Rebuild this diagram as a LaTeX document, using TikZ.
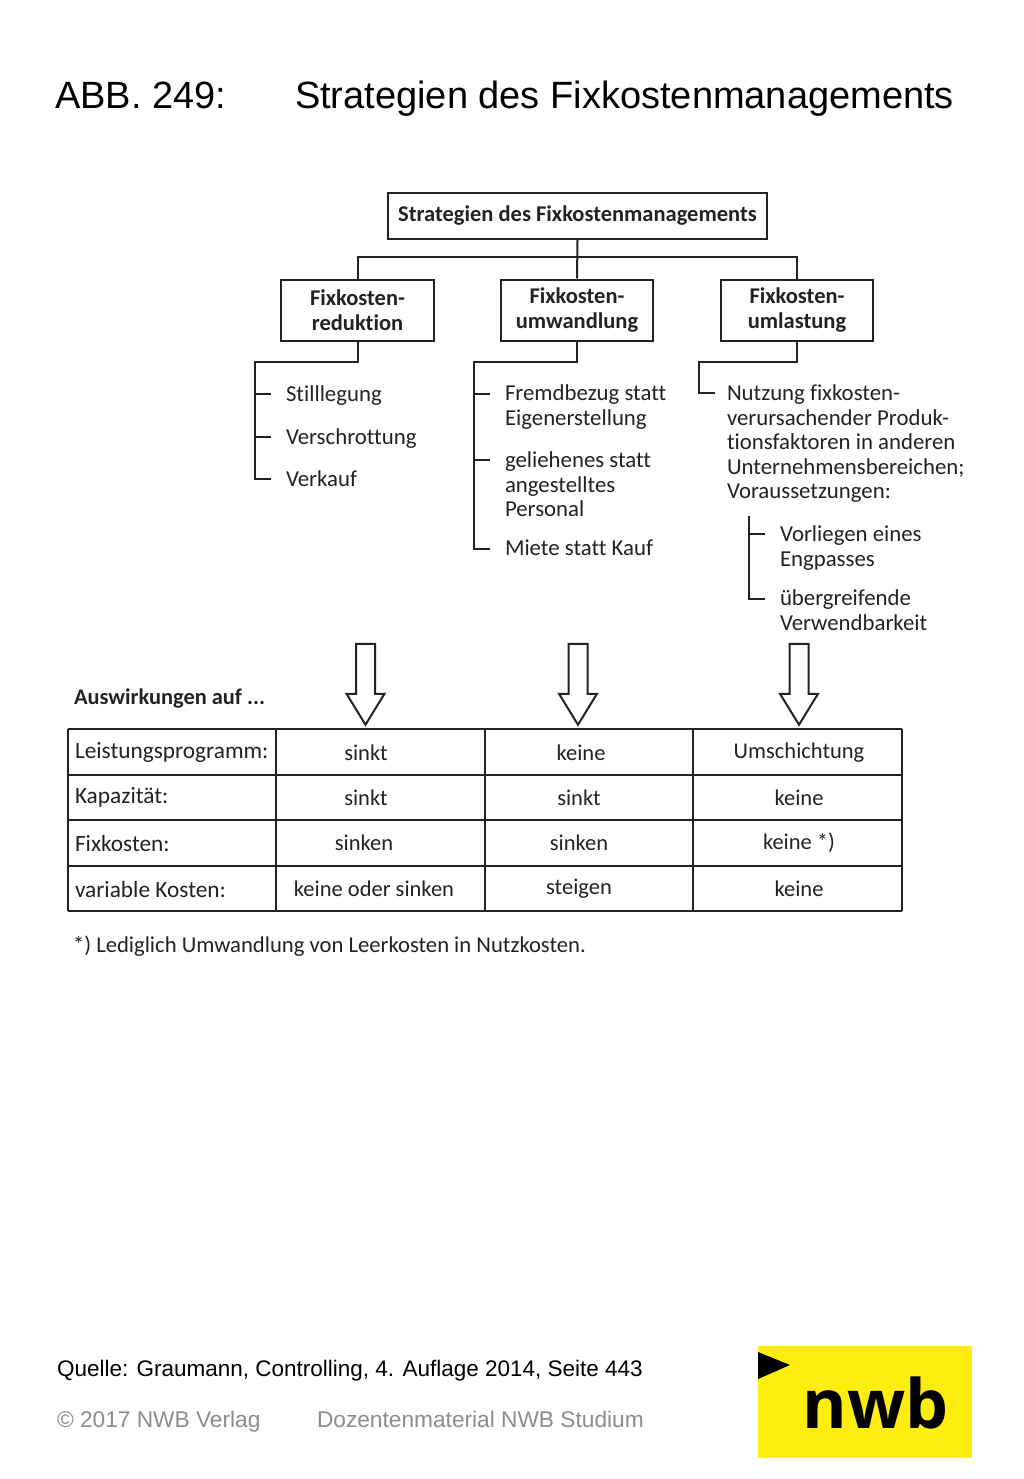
\documentclass[tikz,border=0pt]{standalone}
\usepackage{fontspec}
\setmainfont{Carlito}[Ligatures=NoCommon]
\newfontfamily\arialfont{Liberation Sans}
\newfontfamily\logofont{Open Sans}
\usetikzlibrary{arrows.meta,positioning,shapes.arrows}
\definecolor{ink}{HTML}{222222}
\definecolor{nwbyellow}{HTML}{FFED0F}
\begin{document}
\begin{tikzpicture}[x=1pt,y=-1pt,color=ink,line width=2pt]
\tikzstyle{box}=[rectangle,draw,align=center,inner sep=0pt,font=\fontsize{22.5}{24.5}\selectfont\bfseries]
\tikzstyle{item}=[anchor=north west,align=left,inner xsep=14pt,inner ysep=0pt,font=\fontsize{22.8}{24.4}\selectfont]
\tikzstyle{cell}=[inner sep=0pt,font=\fontsize{22.5}{24.4}\selectfont]
\tikzstyle{bigarrow}=[single arrow,draw,shape border rotate=270,minimum height=81pt,minimum width=36pt,single arrow head extend=9.5pt,single arrow tip angle=63,single arrow head indent=0pt,inner sep=8.5pt]
\useasboundingbox (0,0) rectangle (1024,1479);
\node[anchor=base west,inner sep=0pt,font=\fontsize{38}{38}\selectfont\arialfont,text=black] (abb) at (54,109) {ABB. 249:};
\node[anchor=base west,inner sep=0pt,font=\fontsize{38}{38}\selectfont\arialfont,text=black] (titel) at (294,109) {Strategien des Fixkostenmanagements};
\node[box,minimum width=379pt,minimum height=46pt] (root) at (577.5,216) {Strategien des Fixkostenmanagements};
\node[box,minimum width=153pt,minimum height=61pt] (reduktion) at (357.5,310) {Fixkosten-\\reduktion};
\node[box,minimum width=152pt,minimum height=61pt] (umwandlung) at (577,310) {Fixkosten-\\umwandlung};
\node[box,minimum width=152pt,minimum height=61pt] (umlastung) at (797,310) {Fixkosten-\\umlastung};
\coordinate (bus) at (577,257);
\draw (root.south) -- (umwandlung.north);
\draw (reduktion.north) |- (bus) -| (umlastung.north);
\node[item] (stilllegung) at (271,385) {Stilllegung};
\node[item] (verschrottung) at (271,428) {Verschrottung};
\node[item] (verkauf) at (271,470) {Verkauf};
\node[item] (fremdbezug) at (490,384) {Fremdbezug statt\\Eigenerstellung};
\node[item] (geliehen) at (490,451) {geliehenes statt\\angestelltes\\Personal};
\node[item] (miete) at (490,539) {Miete statt Kauf};
\node[item,inner xsep=11pt] (nutzung) at (715,384) {Nutzung fixkosten-\\verursachender Produk-\\tionsfaktoren in anderen\\Unternehmensbereichen;\\Voraussetzungen:};
\node[item] (engpass) at (765,525) {Vorliegen eines\\Engpasses};
\node[item] (verwendbarkeit) at (765,589) {übergreifende\\Verwendbarkeit};
\coordinate (redknick) at (255,362);
\coordinate (umwknick) at (474,362);
\coordinate (umlknick) at (699,362);
\coordinate (subtop) at (749,516);
\draw (reduktion.south) |- (redknick) |- ([yshift=-9pt]verkauf.north west);
\draw (redknick |- stilllegung.north west) ++(0,9) -- ++(16,0);
\draw (redknick |- verschrottung.north west) ++(0,9) -- ++(16,0);
\draw (umwandlung.south) |- (umwknick) |- ([yshift=-10pt]miete.north west);
\draw (umwknick |- fremdbezug.north west) ++(0,10) -- ++(16,0);
\draw (umwknick |- geliehen.north west) ++(0,9) -- ++(16,0);
\draw (umlastung.south) |- (umlknick) |- ([yshift=-9pt]nutzung.north west);
\draw (subtop) |- ([yshift=-10pt]verwendbarkeit.north west);
\draw (subtop |- engpass.north west) ++(0,9) -- ++(16,0);
\node[bigarrow] (pfeilreduktion) at (365.5,676.5) {};
\node[bigarrow] (pfeilumwandlung) at (578,676.5) {};
\node[bigarrow] (pfeilumlastung) at (799,676.5) {};
\node[cell,anchor=west,font=\fontsize{22.4}{24.4}\selectfont\bfseries] (auswirkungen) at (73,699) {Auswirkungen auf ...};
\foreach \x in {68,276,485,693,902}
  \draw (\x,729) -- (\x,911);
\foreach \y in {729,775,820,866,911}
  \draw (68,\y) -- (902,\y);
\foreach \y/\txt [count=\i] in {752/Leistungsprogramm:,797/Kapazität:,843/Fixkosten:,889/variable Kosten:}
  \node[cell,anchor=west,font=\fontsize{23.3}{24.4}\selectfont] (zeile\i) at (74,\y) {\txt};
\foreach \x/\y/\txt [count=\i] in {366/753/sinkt,366/798/sinkt,364/843/sinken,374/889/keine oder sinken,581/753/keine,579/798/sinkt,579/843/sinken,579/889/steigen,799/753/Umschichtung,799/798/keine,799/843/keine *),799/889/keine}
  \node[cell] (zelle\i) at (\x,\y) {\txt};
\node[cell,anchor=west,font=\fontsize{22.65}{24.4}\selectfont] (fussnote) at (72,946) {*) Lediglich Umwandlung von Leerkosten in Nutzkosten.};
\node[anchor=base west,inner sep=0pt,font=\fontsize{22.5}{23.5}\selectfont\arialfont,text=black] (quelle) at (56,1376) {Quelle: Graumann, Controlling, 4. Auflage 2014, Seite 443};
\node[anchor=base west,inner sep=0pt,font=\fontsize{22.7}{23.5}\selectfont\arialfont,text=black!45] (verlag) at (56,1427) {© 2017 NWB Verlag};
\node[anchor=base west,inner sep=0pt,font=\fontsize{22.7}{23.5}\selectfont\arialfont,text=black!45] (material) at (316,1427) {Dozentenmaterial NWB Studium};
\fill[nwbyellow] (758,1346) rectangle (972,1458);
\fill[black] (758,1352) -- (790,1365) -- (758,1379) -- cycle;
\node[anchor=base,inner sep=0pt,font=\fontsize{68}{68}\selectfont\logofont\bfseries,text=black] (nwb) at (875.5,1428) {nwb};
\end{tikzpicture}
\end{document}
